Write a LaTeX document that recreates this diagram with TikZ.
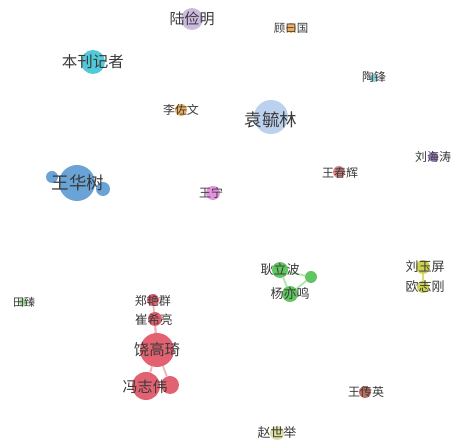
\documentclass[tikz,border=0pt]{standalone}
\usepackage{fontspec}
\newfontfamily\cjk{Noto Sans CJK SC}
\usetikzlibrary{backgrounds}
\definecolor{cLav}{HTML}{C8B4DC}
\definecolor{cOrg}{HTML}{F0A850}
\definecolor{cCyan}{HTML}{40C4D4}
\definecolor{cTeal}{HTML}{78CCDC}
\definecolor{cLBlue}{HTML}{B4CCEC}
\definecolor{cPurp}{HTML}{9070C8}
\definecolor{cPRed}{HTML}{E07C7C}
\definecolor{cBlue}{HTML}{5A9AD2}
\definecolor{cPink}{HTML}{E088D8}
\definecolor{cYel}{HTML}{C8CC40}
\definecolor{cGrn}{HTML}{50C050}
\definecolor{cLGrn}{HTML}{98D890}
\definecolor{cRed}{HTML}{E05262}
\definecolor{cBrn}{HTML}{B86050}
\definecolor{cPYel}{HTML}{DCDC98}
\definecolor{txt}{HTML}{3A3A3A}
\tikzset{
  bub/.style={circle, inner sep=0pt, draw=none, fill=#1, fill opacity=0.9},
  lbl/.style={inner sep=0pt, text=txt, font=\cjk\fontsize{#1}{#1}\selectfont},
  redge/.style={draw=cRed!45, line width=1.8pt},
  gedge/.style={draw=cGrn!45, line width=1.8pt},
  yedge/.style={draw=cYel!70, line width=1.5pt},
}
\begin{document}
\begin{tikzpicture}[x=1pt,y=-1pt]
\useasboundingbox (0,0) rectangle (451,443);
% circles
\node[bub=cLav, minimum size=22pt] (c1) at (192,19) {};
\node[bub=cOrg, minimum size=10pt] (c2) at (291,28) {};
\node[bub=cCyan, minimum size=24pt] (c3) at (93,62) {};
\node[bub=cTeal, minimum size=8pt] (c4) at (374,78) {};
\node[bub=cOrg, minimum size=12pt] (c5) at (181,110) {};
\node[bub=cLBlue, minimum size=34pt] (c6) at (271,117) {};
\node[bub=cPurp, minimum size=10pt] (c7) at (433,157) {};
\node[bub=cPRed, minimum size=12pt] (c8) at (339,172) {};
\node[bub=cBlue, minimum size=12pt] (c9a) at (52,177) {};
\node[bub=cBlue, minimum size=14pt] (c9b) at (103,189) {};
\node[bub=cBlue, minimum size=36pt] (c9) at (77,183) {};
\node[bub=cPink, minimum size=14pt] (c10) at (213,193) {};
\node[bub=cYel, minimum size=14pt] (c11) at (423,267) {};
\node[bub=cYel, minimum size=12pt] (c12) at (423,287) {};
\node[bub=cGrn, minimum size=16pt] (c13) at (280,270) {};
\node[bub=cGrn, minimum size=12pt] (c14) at (311,277) {};
\node[bub=cGrn, minimum size=16pt] (c15) at (290,294) {};
\node[bub=cLGrn, minimum size=8pt] (c16) at (23,302) {};
\node[bub=cRed, minimum size=12pt] (c17) at (153,300) {};
\node[bub=cRed, minimum size=14pt] (c18) at (155,319) {};
\node[bub=cRed, minimum size=34pt] (c19) at (157,350) {};
\node[bub=cRed, minimum size=18pt] (c21) at (170,385) {};
\node[bub=cRed, minimum size=28pt] (c20) at (146,386) {};
\node[bub=cBrn, minimum size=12pt] (c22) at (365,392) {};
\node[bub=cPYel, minimum size=14pt] (c23) at (277,433) {};
% edges
\begin{scope}[on background layer]
\fill[white] (0,0) rectangle (451,443);
\draw[redge] (c17) -- (c19);
\draw[redge] (c18) -- (c19);
\draw[redge] (c19) -- (c20);
\draw[redge] (c19) -- (c21);
\draw[gedge] (c13) -- (c14);
\draw[gedge] (c14) -- (c15);
\draw[gedge] (c13) -- (c15);
\draw[yedge] (c11) -- (c12);
\end{scope}
% labels
\node[lbl=15] (t1) at (192,19) {陆俭明};
\node[lbl=11.5] (t2) at (291,28) {顾曰国};
\node[lbl=15.5] (t3) at (93,62) {本刊记者};
\node[lbl=12] (t4) at (374,77) {陶锋};
\node[lbl=12] (t5) at (181,110) {李佐文};
\node[lbl=17.5] (t6) at (271,120) {袁毓林};
\node[lbl=12] (t7) at (433,157) {刘海涛};
\node[lbl=12] (t8) at (340,173) {王春辉};
\node[lbl=17.5] (t9) at (78,183) {王华树};
\node[lbl=12] (t10) at (211,193) {王宁};
\node[lbl=13] (t11) at (425,267) {刘玉屏};
\node[lbl=13] (t12) at (425,287) {欧志刚};
\node[lbl=13] (t13) at (280,270) {耿立波};
\node[lbl=13] (t15) at (290,294) {杨亦鸣};
\node[lbl=11] (t16) at (24,302) {田臻};
\node[lbl=12] (t17) at (153,301) {郑艳群};
\node[lbl=12.5] (t18) at (154,320) {崔希亮};
\node[lbl=15.5] (t19) at (157,350) {饶高琦};
\node[lbl=15] (t20) at (145,387) {冯志伟};
\node[lbl=12] (t22) at (366,392) {王传英};
\node[lbl=13] (t23) at (277,433) {赵世举};
\end{tikzpicture}
\end{document}
